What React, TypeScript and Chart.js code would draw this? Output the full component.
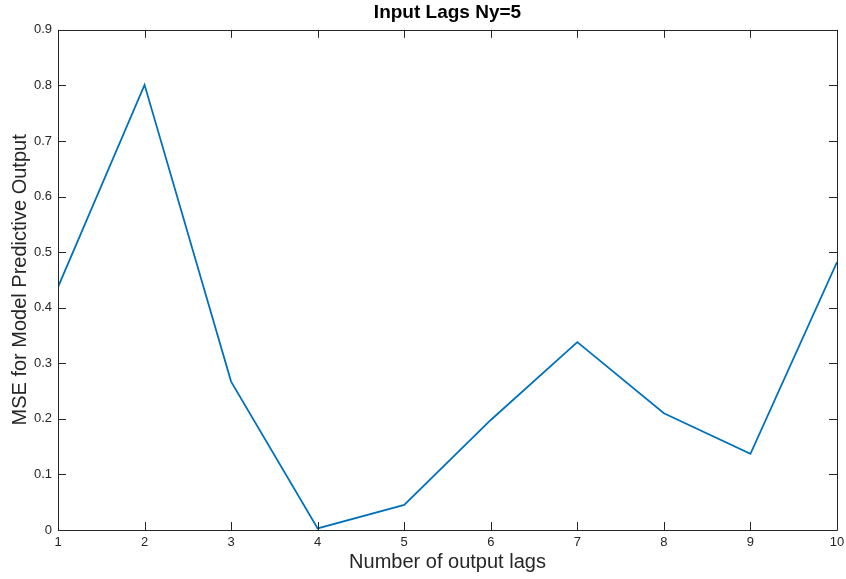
import React, { useEffect, useRef } from "react";
import { Chart, registerables } from "chart.js";

Chart.register(...registerables);

const lags = [1, 2, 3, 4, 5, 6, 7, 8, 9, 10];
const mseValues = [0.437, 0.801, 0.267, 0.003, 0.045, 0.198, 0.338, 0.21, 0.137, 0.482];
const yTicks = [0, 0.1, 0.2, 0.3, 0.4, 0.5, 0.6, 0.7, 0.8, 0.9];
const titleText = "Input Lags Ny=5";
const xTitle = "Number of output lags";
const yTitle = "MSE for Model Predictive Output";

const AXIS_COLOR = "#262626";
const FONT = "'Liberation Sans', Arial, Helvetica, sans-serif";

const boxPlugin = {
  id: "matlabBox",
  afterDatasetsDraw(chart: any) {
    const { ctx, chartArea } = chart;
    const { left, right, top, bottom } = chartArea;
    const xs = chart.scales.x;
    const ys = chart.scales.y;
    const tl = 8;
    ctx.save();
    ctx.strokeStyle = AXIS_COLOR;
    ctx.lineWidth = 1;
    ctx.beginPath();
    ctx.rect(Math.round(left) + 0.5, Math.round(top) + 0.5, Math.round(right - left), Math.round(bottom - top));
    ctx.stroke();
    ctx.beginPath();
    xs.ticks.forEach((t: any) => {
      const px = Math.round(xs.getPixelForValue(t.value)) + 0.5;
      ctx.moveTo(px, bottom);
      ctx.lineTo(px, bottom - tl);
      ctx.moveTo(px, top);
      ctx.lineTo(px, top + tl);
    });
    ys.ticks.forEach((t: any) => {
      const py = Math.round(ys.getPixelForValue(t.value)) + 0.5;
      ctx.moveTo(left, py);
      ctx.lineTo(left + tl, py);
      ctx.moveTo(right, py);
      ctx.lineTo(right - tl, py);
    });
    ctx.stroke();
    ctx.restore();
  },
};

export default function App() {
  const ref = useRef<HTMLCanvasElement | null>(null);
  useEffect(() => {
    document.body.style.margin = "0";
    if (!ref.current) return;
    const chart = new Chart(ref.current, {
      type: "line",
      data: {
        datasets: [
          {
            data: lags.map((x, i) => ({ x, y: mseValues[i] })),
            borderColor: "#0072BD",
            borderWidth: 1.8,
            pointRadius: 0,
            fill: false,
            tension: 0,
          },
        ],
      },
      options: {
        animation: false,
        responsive: false,
        layout: { padding: { left: 0, right: 9, top: 0, bottom: 0 } },
        plugins: {
          legend: { display: false },
          tooltip: { enabled: false },
          title: {
            display: true,
            fullSize: false,
            text: titleText,
            color: "#000",
            font: { family: FONT, size: 19, weight: "bold" },
            padding: { top: 1, bottom: 6 },
          },
        },
        scales: {
          x: {
            type: "linear",
            min: 1,
            max: 10,
            afterBuildTicks: (s: any) => {
              s.ticks = lags.map((v) => ({ value: v }));
            },
            afterFit: (s: any) => {
              s.height = 49;
              s.paddingLeft = 0;
              s.paddingRight = 0;
            },
            grid: { display: false, drawTicks: false },
            border: { display: false },
            ticks: {
              color: AXIS_COLOR,
              font: { family: FONT, size: 13 },
              padding: 5,
              maxRotation: 0,
              autoSkip: false,
            },
            title: {
              display: true,
              text: xTitle,
              color: AXIS_COLOR,
              font: { family: FONT, size: 20 },
              padding: { top: 0, bottom: 5 },
            },
          },
          y: {
            type: "linear",
            min: 0,
            max: 0.9,
            afterBuildTicks: (s: any) => {
              s.ticks = yTicks.map((v) => ({ value: v }));
            },
            afterFit: (s: any) => {
              s.width = 58;
              s.paddingTop = 0;
              s.paddingBottom = 0;
            },
            grid: { display: false, drawTicks: false },
            border: { display: false },
            ticks: {
              color: AXIS_COLOR,
              font: { family: FONT, size: 13 },
              padding: 6,
              autoSkip: false,
              callback: (v: any) => String(Number(Number(v).toFixed(1))),
            },
            title: {
              display: true,
              text: yTitle,
              color: AXIS_COLOR,
              font: { family: FONT, size: 20 },
              padding: { top: 8, bottom: 0 },
            },
          },
        },
      },
      plugins: [
        boxPlugin,
        {
          id: "bg",
          beforeDraw(c: any) {
            const ctx = c.ctx;
            ctx.save();
            ctx.fillStyle = "#fff";
            ctx.fillRect(0, 0, c.width, c.height);
            ctx.restore();
          },
        },
      ],
    } as any);
    return () => chart.destroy();
  }, []);
  return (
    <div style={{ position: "absolute", left: 0, top: 0, width: 846, height: 579, background: "#fff" }}>
      <canvas ref={ref} width={846} height={579} style={{ width: 846, height: 579 }} />
    </div>
  );
}
